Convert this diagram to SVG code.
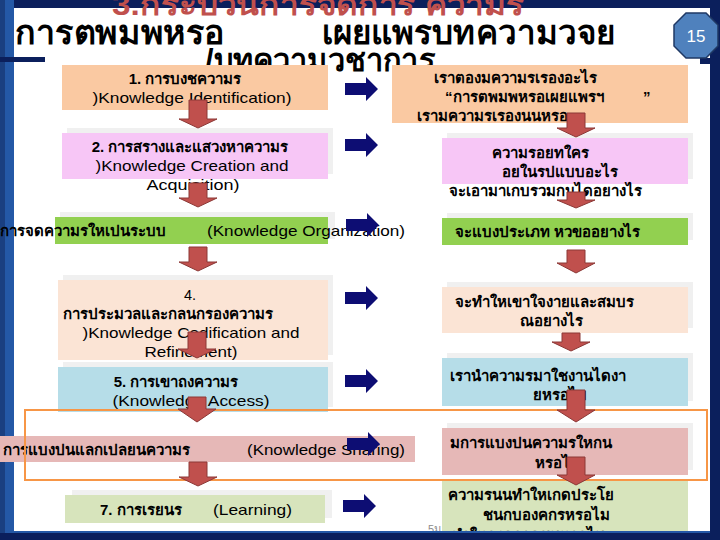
<svg xmlns="http://www.w3.org/2000/svg" width="720" height="540" viewBox="0 0 720 540">
<defs>
<style>
.th{font-family:"Liberation Sans","Noto Sans",sans-serif;font-weight:bold;font-size:15px;fill:#000}
.en{font-family:"Liberation Sans",Arial,sans-serif;font-size:14.5px;fill:#000}
.ghost{fill:#F0F0F0}
.dn{fill:#C0504D;stroke:#8C3836;stroke-width:1}
.rt{fill:#0D0D73}
.title{font-family:"Liberation Sans","Noto Sans",sans-serif;font-weight:bold;fill:#000}
</style>
</defs>
<rect x="0" y="0" width="720" height="540" fill="#FFFFFF"/>
<!-- frame -->
<rect x="0" y="0" width="720" height="8" fill="#0B1F5C"/>
<rect x="0" y="0" width="14" height="540" fill="#2458A6"/>
<rect x="0" y="0" width="5" height="540" fill="#1A3F80"/>
<rect x="0" y="57" width="45" height="5" fill="#0B1F5C"/>
<rect x="710" y="0" width="10" height="540" fill="#0B1F5C"/>
<rect x="700" y="58" width="20" height="6" fill="#0B1F5C"/>
<!-- title -->
<text x="318" y="15" text-anchor="middle" font-family="Liberation Sans,Noto Sans,sans-serif" font-weight="bold" font-size="29" fill="#C0504D" textLength="412" lengthAdjust="spacingAndGlyphs">3.กระบวนการจดการ ความร</text>
<text class="title" x="15" y="44" font-size="33" textLength="210" lengthAdjust="spacingAndGlyphs">การตพมพหรอ</text>
<text class="title" x="322" y="44" font-size="33" textLength="293" lengthAdjust="spacingAndGlyphs">เผยแพรบทความวจย</text>
<text class="title" x="205" y="71" font-size="32" textLength="230" lengthAdjust="spacingAndGlyphs">/บทความวชาการ</text>
<!-- page number -->
<g id="pagenum">
<polygon points="686,13 706,13 718,25 718,46 706,58 686,58 674,46 674,25" fill="#4F81BD" stroke="#1F3864" stroke-width="1.5"/>
<text x="696" y="42" text-anchor="middle" font-family="Liberation Sans,sans-serif" font-size="17" fill="#FFFFFF">15</text>
</g>
<!-- left column -->
<g id="k1">
<rect x="62" y="65" width="266" height="45" fill="#FAC9A2"/>
<text class="th" x="185" y="84" text-anchor="middle">1. การบงชความร</text>
<text class="en" x="192" y="103" text-anchor="middle" textLength="199" lengthAdjust="spacingAndGlyphs">)Knowledge Identification)</text>
</g>
<g id="k2">
<rect class="ghost" x="67" y="128" width="266" height="46"/>
<rect x="62" y="133" width="266" height="46" fill="#F7C6F6"/>
<text class="th" x="190" y="152" text-anchor="middle">2. การสรางและแสวงหาความร</text>
<text class="en" x="192" y="171" text-anchor="middle" textLength="193" lengthAdjust="spacingAndGlyphs">)Knowledge Creation and</text>
<text class="en" x="193" y="190" text-anchor="middle" textLength="93" lengthAdjust="spacingAndGlyphs">Acquisition)</text>
</g>
<g id="k3">
<rect class="ghost" x="60" y="212" width="275" height="27"/>
<rect x="55" y="217" width="273" height="27" fill="#92D050"/>
<text class="th" x="0" y="236">การจดความรใหเปนระบบ</text>
<text class="en" x="207" y="236" textLength="198" lengthAdjust="spacingAndGlyphs">(Knowledge Organization)</text>
</g>
<g id="k4">
<rect class="ghost" x="63" y="275" width="270" height="80"/>
<rect x="58" y="280" width="270" height="80" fill="#FBE4D5"/>
<text class="en" x="190" y="300" text-anchor="middle">4.</text>
<text class="th" x="168" y="319" text-anchor="middle">การประมวลและกลนกรองความร</text>
<text class="en" x="191" y="338" text-anchor="middle" textLength="217" lengthAdjust="spacingAndGlyphs">)Knowledge Codification and</text>
<text class="en" x="191" y="357" text-anchor="middle" textLength="93" lengthAdjust="spacingAndGlyphs">Refinement)</text>
</g>
<g id="k5">
<rect class="ghost" x="63" y="362" width="270" height="45"/>
<rect x="58" y="367" width="270" height="45" fill="#B6DDE8"/>
<text class="th" x="176" y="387" text-anchor="middle">5. การเขาถงความร</text>
<text class="en" x="191" y="406" text-anchor="middle" textLength="157" lengthAdjust="spacingAndGlyphs">(Knowledge Access)</text>
</g>
<g id="k6">
<rect x="0" y="436" width="415" height="26" fill="#E6B8B7"/>
<text class="th" x="3" y="455">การแบงปนแลกเปลยนความร</text>
<text class="en" x="247" y="455" textLength="158" lengthAdjust="spacingAndGlyphs">(Knowledge Sharing)</text>
</g>
<g id="k7">
<rect class="ghost" x="72" y="490" width="260" height="28"/>
<rect x="65" y="495" width="260" height="28" fill="#D7E4BC"/>
<text class="th" x="100" y="515">7. การเรยนร</text>
<text class="en" x="213" y="515" textLength="79" lengthAdjust="spacingAndGlyphs">(Learning)</text>
</g>
<!-- right column -->
<g id="q1">
<rect x="392" y="65" width="296" height="58" fill="#FAC9A2"/>
<text class="th" x="515" y="83" text-anchor="middle">เราตองมความรเรองอะไร</text>
<text class="th" x="445" y="102">“การตพมพหรอเผยแพรฯ</text>
<text class="th" x="643" y="102">”</text>
<text class="th" x="417" y="121">เรามความรเรองนนหรอ</text>
</g>
<g id="q2">
<rect class="ghost" x="447" y="133" width="246" height="46"/>
<rect x="442" y="138" width="246" height="46" fill="#F7C6F6"/>
<text class="th" x="540" y="158" text-anchor="middle">ความรอยทใคร</text>
<text class="th" x="560" y="177" text-anchor="middle">อยในรปแบบอะไร</text>
<text class="th" x="545" y="196" text-anchor="middle">จะเอามาเกบรวมกนไดอยางไร</text>
</g>
<g id="q3">
<rect class="ghost" x="447" y="213" width="246" height="27"/>
<rect x="442" y="218" width="246" height="27" fill="#92D050"/>
<text class="th" x="455" y="237">จะแบงประเภท  หวขออยางไร</text>
</g>
<g id="q4">
<rect class="ghost" x="447" y="282" width="246" height="46"/>
<rect x="442" y="287" width="246" height="46" fill="#FBE4D5"/>
<text class="th" x="455" y="307">จะทำใหเขาใจงายและสมบร</text>
<text class="th" x="551" y="326" text-anchor="middle">ณอยางไร</text>
</g>
<g id="q5">
<rect class="ghost" x="447" y="353" width="246" height="48"/>
<rect x="442" y="358" width="246" height="48" fill="#B6DDE8"/>
<text class="th" x="450" y="381">เรานำความรมาใชงานไดงา</text>
<text class="th" x="560" y="400" text-anchor="middle">ยหรอไม</text>
</g>
<g id="q6">
<rect class="ghost" x="447" y="423" width="246" height="47"/>
<rect x="442" y="428" width="246" height="47" fill="#E6B8B7"/>
<text class="th" x="450" y="448">มการแบงปนความรใหกน</text>
<text class="th" x="557" y="468" text-anchor="middle">หรอไม</text>
</g>
<g id="q7">
<rect x="442" y="480" width="246" height="60" fill="#D7E4BC"/>
<text class="th" x="448" y="500">ความรนนทำใหเกดประโย</text>
<text class="th" x="546" y="520" text-anchor="middle">ชนกบองคกรหรอไม</text>
<text class="th" x="452" y="540">ทำใหองคกรดขนหรอไม</text>
</g>
<text x="428" y="533" font-family="Liberation Sans,sans-serif" font-size="11" fill="#8C8C8C">5ม</text>
<!-- orange highlight -->
<rect x="25" y="410" width="682" height="70" fill="none" stroke="#F79646" stroke-width="2"/>
<!-- connectors -->
<g id="connectors">
<path class="dn" d="M189,100 H207 V119 H217 L198,128 L179,119 H189 Z"/>
<path class="dn" d="M189,183 H207 V198 H217 L198,207 L179,198 H189 Z"/>
<path class="dn" d="M189,247 H207 V262 H217 L198,271 L179,262 H189 Z"/>
<path class="dn" d="M188,332 H206 V349 H216 L197,358 L178,349 H188 Z"/>
<path class="dn" d="M188,397 H206 V409 H216 L197,422 L178,409 H188 Z"/>
<path class="dn" d="M189,462 H207 V477 H217 L198,486 L179,477 H189 Z"/>
<path class="dn" d="M567,113 H585 V128 H595 L576,137 L557,128 H567 Z"/>
<path class="dn" d="M567,192 H585 V200 H595 L576,208 L557,200 H567 Z"/>
<path class="dn" d="M567,250 H585 V263 H595 L576,273 L557,263 H567 Z"/>
<path class="dn" d="M562,333 H580 V342 H590 L571,351 L552,342 H562 Z"/>
<path class="dn" d="M567,390 H585 V410 H595 L576,422 L557,410 H567 Z"/>
<path class="dn" d="M567,457 H585 V475 H595 L576,485 L557,475 H567 Z"/>
<path class="rt" d="M345,83 H366 V77 L378,89 L366,101 V95 H345 Z"/>
<path class="rt" d="M345,139 H366 V133 L378,145 L366,157 V151 H345 Z"/>
<path class="rt" d="M346,219 H367 V213 L379,225 L367,237 V231 H346 Z"/>
<path class="rt" d="M345,292 H366 V286 L378,298 L366,310 V304 H345 Z"/>
<path class="rt" d="M345,375 H366 V369 L378,381 L366,393 V387 H345 Z"/>
<path class="rt" d="M347,438 H368 V432 L380,444 L368,456 V450 H347 Z"/>
<path class="rt" d="M343,500 H364 V494 L376,506 L364,518 V512 H343 Z"/>
</g>
<rect x="0" y="533" width="720" height="7" fill="#0B1F5C"/>
<rect x="14" y="531" width="696" height="2" fill="#2458A6"/>
</svg>
